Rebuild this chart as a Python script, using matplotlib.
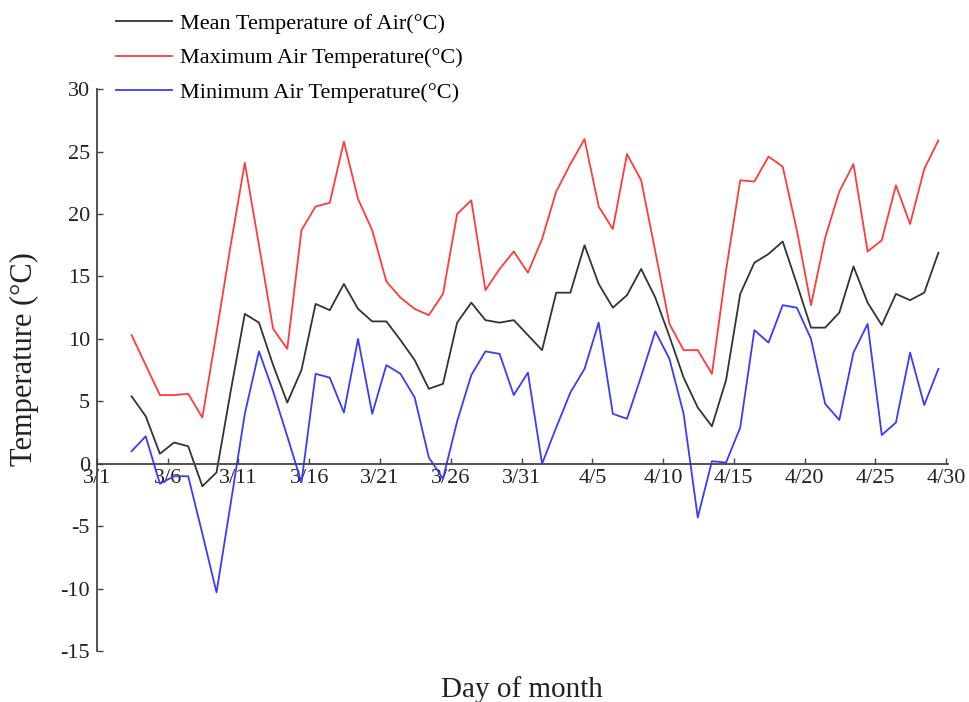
import numpy as np
import matplotlib.pyplot as plt

plt.rcParams['font.family'] = ['Liberation Serif', 'DejaVu Serif']
plt.rcParams['axes.unicode_minus'] = False

tick_labels = ['3/1', '3/6', '3/11', '3/16', '3/21', '3/26', '3/31',
               '4/5', '4/10', '4/15', '4/20', '4/25', '4/30']

max_temp = [10.3, 7.9, 5.5, 5.5, 5.6, 3.7, 10.5, 17.5, 24.1, 17.5,
            10.8, 9.2, 18.7, 20.6, 20.9, 25.8, 21.2, 18.7, 14.6, 13.3,
            12.4, 11.9, 13.6, 20.0, 21.1, 13.9, 15.6, 17.0, 15.3, 18.0,
            21.8, 24.0, 26.0, 20.6, 18.8, 24.8, 22.7, 17.0, 11.2, 9.1,
            9.1, 7.2, 15.5, 22.7, 22.6, 24.6, 23.8, 18.7, 12.7, 18.1,
            21.8, 24.0, 17.0, 17.9, 22.3, 19.2, 23.6, 25.9]

mean_temp = [5.4, 3.8, 0.8, 1.7, 1.4, -1.8, -0.7, 5.8, 12.0, 11.3,
             7.9, 4.9, 7.5, 12.8, 12.3, 14.4, 12.4, 11.4, 11.4, 9.9,
             8.3, 6.0, 6.4, 11.3, 12.9, 11.5, 11.3, 11.5, 10.3, 9.1,
             13.7, 13.7, 17.5, 14.4, 12.5, 13.5, 15.6, 13.3, 10.2, 6.9,
             4.5, 3.0, 6.7, 13.6, 16.1, 16.8, 17.8, 14.4, 10.9, 10.9,
             12.1, 15.8, 12.9, 11.1, 13.6, 13.1, 13.7, 16.9]

min_temp = [1.0, 2.2, -1.6, -1.0, -1.0, -5.6, -10.3, -3.2, 4.0, 9.0,
            5.8, 2.2, -1.5, 7.2, 6.9, 4.1, 10.0, 4.0, 7.9, 7.2,
            5.3, 0.5, -1.2, 3.4, 7.1, 9.0, 8.8, 5.5, 7.3, 0.0,
            2.9, 5.7, 7.6, 11.3, 4.0, 3.6, 7.0, 10.6, 8.4, 4.0,
            -4.3, 0.2, 0.1, 2.9, 10.7, 9.7, 12.7, 12.5, 10.0, 4.8,
            3.5, 8.9, 11.2, 2.3, 3.3, 8.9, 4.7, 7.6]

# x position of first record relative to the 3/1 tick
day_offset = 2.45
days = np.arange(len(mean_temp)) + day_offset

fig = plt.figure(figsize=(9.7, 7.02), dpi=100)
ax = fig.add_axes([0.0999, 0.0726, 0.877, 0.8004])

l1, = ax.plot(days, mean_temp, color='#333333', linewidth=1.3, label='Mean Temperature of Air(\u00b0C)')
l2, = ax.plot(days, max_temp, color='#ff3b3b', linewidth=1.3, label='Maximum Air Temperature(\u00b0C)')
l3, = ax.plot(days, min_temp, color='#3b3bff', linewidth=1.3, label='Minimum Air Temperature(\u00b0C)')

ax.set_xlim(0, 60.1)
ax.set_ylim(-15, 30)

ax.spines['top'].set_visible(False)
ax.spines['right'].set_visible(False)
ax.spines['bottom'].set_position(('data', 0))
for s in ['left', 'bottom']:
    ax.spines[s].set_color('#444444')
    ax.spines[s].set_linewidth(1.3)

ax.set_xticks(np.arange(0, 61, 5))
ax.set_xticklabels(tick_labels)
ax.set_yticks(np.arange(-15, 31, 5))
ax.tick_params(axis='both', direction='in', length=4, width=1, colors='#444444',
               labelsize=16, labelcolor='#222222')
ax.tick_params(axis='y', pad=5)
ax.tick_params(axis='x', pad=4)

ax.set_ylabel('Temperature (\u00b0C)', fontsize=22, color='#222222')
ax.yaxis.set_label_coords(-0.068, 0.52)
ax.set_xlabel('Day of month', fontsize=21, color='#222222')
ax.xaxis.set_label_coords(0.5, -0.045)

fig.legend(handles=[l1, l2, l3], loc='upper left', bbox_to_anchor=(0.115, 0.987),
           frameon=False, fontsize=16, handlelength=2.5, handletextpad=0.4,
           labelspacing=0.62, borderpad=0.2, borderaxespad=0)

fig.savefig('out.png', dpi=100)
